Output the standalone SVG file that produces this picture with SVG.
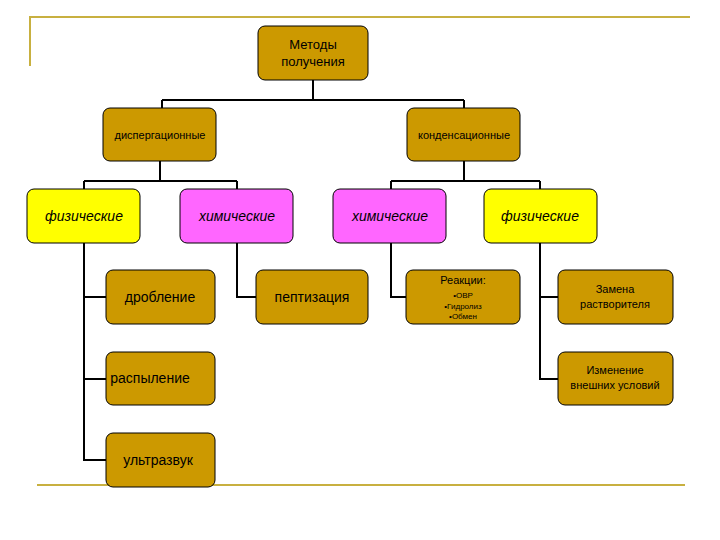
<svg xmlns="http://www.w3.org/2000/svg" width="720" height="540" viewBox="0 0 720 540">
<style>
.n{stroke:#000;stroke-width:1}
.g{fill:#CC9900}.y{fill:#FFFF00}.m{fill:#FF66FF}
text{font-family:"Liberation Sans",Arial,sans-serif;fill:#000;text-anchor:middle}
.i{font-style:italic;font-size:14px}
.c{fill:none;stroke:#000;stroke-width:2}
</style>
<rect width="720" height="540" fill="#fff"/>
<g id="frame" stroke="#C8B040" stroke-width="2" fill="none">
<path d="M30 66V17H690"/><path d="M37 485H685"/>
</g>
<g id="connectors" class="c">
<path d="M313 80V100M162 100H464M162 100V108M464 100V108"/>
<path d="M160 161V181M84 181H237M84 181V189M237 181V189"/>
<path d="M464 161V181M391 181H540M391 181V189M540 181V189"/>
<path d="M84 243V460H106M84 297H106M84 379H106"/>
<path d="M237 243V297H256"/>
<path d="M391 243V297H406"/>
<path d="M540 243V379H558M540 297H558"/>
</g>
<g id="root"><rect class="n g" x="258" y="26" width="110" height="54" rx="7"/><text x="313" y="49" font-size="13">Методы</text><text x="313" y="66" font-size="13">получения</text></g>
<g id="disp"><rect class="n g" x="103" y="108" width="113" height="53" rx="7"/><text x="160" y="139" font-size="11">диспергационные</text></g>
<g id="cond"><rect class="n g" x="407" y="108" width="113" height="53" rx="7"/><text x="464" y="139" font-size="11">конденсационные</text></g>
<g id="fiz1"><rect class="n y" x="27" y="189" width="113" height="54" rx="7"/><text class="i" x="84" y="221">физические</text></g>
<g id="chem1"><rect class="n m" x="180" y="189" width="113" height="54" rx="7"/><text class="i" x="237" y="221">химические</text></g>
<g id="chem2"><rect class="n m" x="333" y="189" width="113" height="54" rx="7"/><text class="i" x="390" y="221">химические</text></g>
<g id="fiz2"><rect class="n y" x="484" y="189" width="113" height="54" rx="7"/><text class="i" x="540" y="221">физические</text></g>
<g id="drob"><rect class="n g" x="106" y="270" width="109" height="54" rx="7"/><text x="160" y="302" font-size="14">дробление</text></g>
<g id="pept"><rect class="n g" x="256" y="270" width="112" height="54" rx="7"/><text x="312" y="302" font-size="14">пептизация</text></g>
<g id="react"><rect class="n g" x="406" y="270" width="114" height="54" rx="7"/><text x="463" y="284" font-size="11">Реакции:</text><text x="463" y="298" font-size="8">•ОВР</text><text x="463" y="309" font-size="8">•Гидролиз</text><text x="463" y="319" font-size="8">•Обмен</text></g>
<g id="zamena"><rect class="n g" x="558" y="270" width="115" height="54" rx="7"/><text x="615" y="293" font-size="11">Замена</text><text x="615" y="308" font-size="11">растворителя</text></g>
<g id="raspyl"><rect class="n g" x="106" y="352" width="109" height="53" rx="7"/><text x="150" y="383" font-size="14">распыление</text></g>
<g id="izmen"><rect class="n g" x="558" y="352" width="115" height="53" rx="7"/><text x="615" y="374" font-size="11">Изменение</text><text x="615" y="389" font-size="11">внешних условий</text></g>
<g id="ultra"><rect class="n g" x="106" y="433" width="109" height="54" rx="7"/><text x="158" y="465" font-size="14">ультразвук</text></g>
</svg>
